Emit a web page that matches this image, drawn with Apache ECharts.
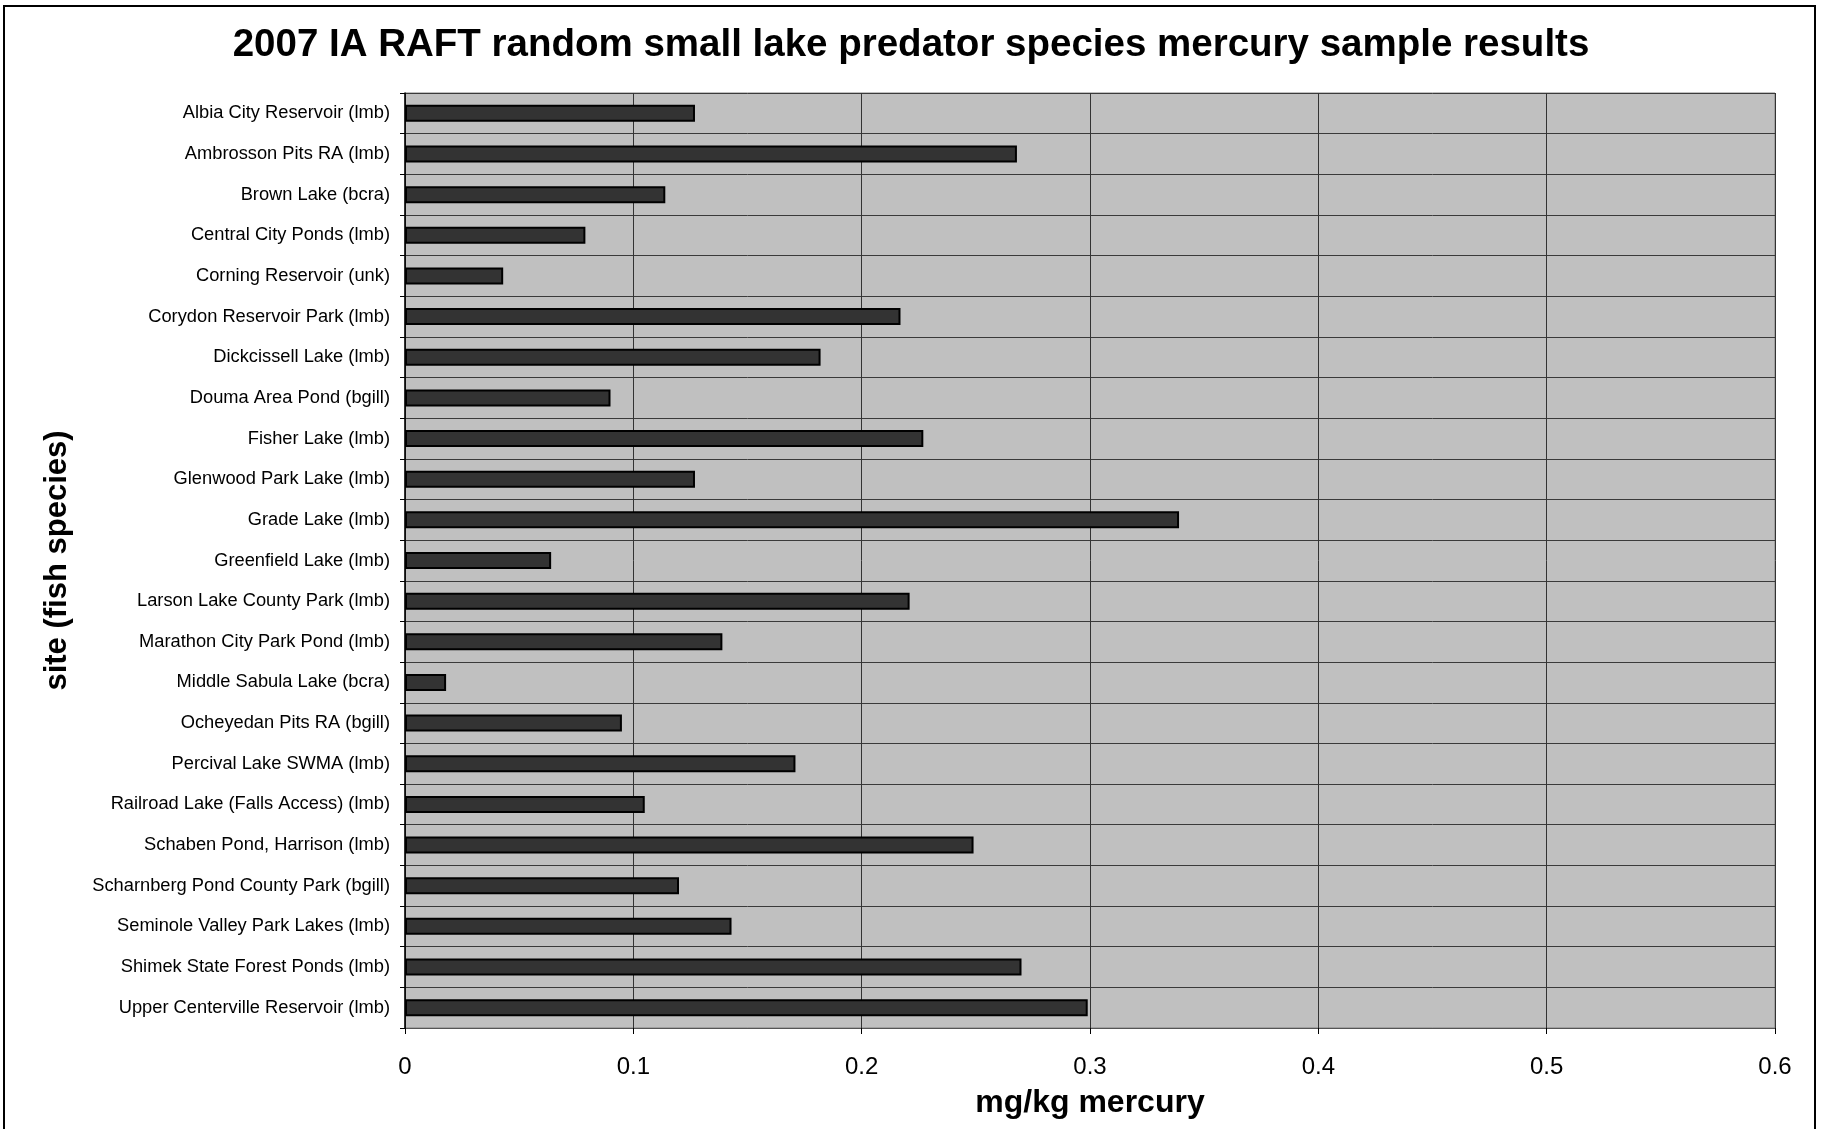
<!DOCTYPE html>
<html>
<head>
<meta charset="utf-8">
<script src="https://cdn.jsdelivr.net/npm/echarts@6/dist/echarts.min.js"></script>
<style>
  html, body { margin: 0; padding: 0; background: #ffffff; }
  #chart { width: 1822px; height: 1129px; }
</style>
</head>
<body>
<div id="chart"></div>
<script>
// Sites sampled (fish species in parentheses)
var sites = [
  'Albia City Reservoir (lmb)',
  'Ambrosson Pits RA (lmb)',
  'Brown Lake (bcra)',
  'Central City Ponds (lmb)',
  'Corning Reservoir (unk)',
  'Corydon Reservoir Park (lmb)',
  'Dickcissell Lake (lmb)',
  'Douma Area Pond (bgill)',
  'Fisher Lake (lmb)',
  'Glenwood Park Lake (lmb)',
  'Grade Lake (lmb)',
  'Greenfield Lake (lmb)',
  'Larson Lake County Park (lmb)',
  'Marathon City Park Pond (lmb)',
  'Middle Sabula Lake (bcra)',
  'Ocheyedan Pits RA (bgill)',
  'Percival Lake SWMA (lmb)',
  'Railroad Lake (Falls Access) (lmb)',
  'Schaben Pond, Harrison (lmb)',
  'Scharnberg Pond County Park (bgill)',
  'Seminole Valley Park Lakes (lmb)',
  'Shimek State Forest Ponds (lmb)',
  'Upper Centerville Reservoir (lmb)'
];

// Mercury concentration, mg/kg
var mercury = [
  0.127, 0.268, 0.114, 0.079, 0.043, 0.217, 0.182, 0.090, 0.227, 0.127,
  0.339, 0.064, 0.221, 0.139, 0.018, 0.095, 0.171, 0.105, 0.249, 0.120,
  0.143, 0.270, 0.299
];

// Value axis ticks
var xTicks = [0, 0.1, 0.2, 0.3, 0.4, 0.5, 0.6];

var titleText = '2007 IA RAFT random small lake predator species mercury sample results';
var xName = 'mg/kg mercury';
var yName = 'site (fish species)';

var FONT = '"Liberation Sans", Arial, sans-serif';

var chart = echarts.init(document.getElementById('chart'), null, { renderer: 'canvas' });

chart.setOption({
  backgroundColor: '#ffffff',
  animation: false,
  title: {
    text: titleText,
    left: 'center',
    top: 21,
    textStyle: { fontFamily: FONT, fontSize: 38.5, fontWeight: 'bold', color: '#000' }
  },
  graphic: [{
    type: 'rect',
    shape: { x: 4, y: 6, width: 1811, height: 1140 },
    style: { fill: 'none', stroke: '#000', lineWidth: 2 },
    silent: true
  }],
  grid: {
    left: 405,
    right: 47,
    top: 93,
    bottom: 101,
    show: true,
    backgroundColor: '#c0c0c0',
    borderColor: '#808080',
    borderWidth: 1
  },
  xAxis: {
    type: 'value',
    min: xTicks[0],
    max: xTicks[xTicks.length - 1],
    interval: 0.1,
    name: xName,
    nameLocation: 'middle',
    nameGap: 59,
    nameTextStyle: { fontFamily: FONT, fontSize: 32, fontWeight: 'bold', color: '#000' },
    axisLine: { show: true, lineStyle: { color: '#555', width: 1 } },
    axisTick: { show: true, length: 6, lineStyle: { color: '#000' } },
    axisLabel: {
      margin: 27,
      fontFamily: FONT,
      fontSize: 24,
      color: '#000',
      formatter: function (v) { return String(+v.toFixed(1)); }
    },
    splitLine: { show: true, lineStyle: { color: '#333', width: 1 } }
  },
  yAxis: {
    type: 'category',
    data: sites,
    inverse: true,
    name: yName,
    nameLocation: 'middle',
    nameGap: 332,
    nameTextStyle: { fontFamily: FONT, fontSize: 31, fontWeight: 'bold', color: '#000' },
    axisLine: { show: true, lineStyle: { color: '#000', width: 1.5 } },
    axisTick: { show: true, length: 5, inside: false, lineStyle: { color: '#000' } },
    axisLabel: { margin: 15, fontFamily: FONT, fontSize: 18.3, color: '#000' },
    splitLine: { show: true, lineStyle: { color: '#3a3a3a', width: 1 } }
  },
  series: [{
    type: 'bar',
    data: mercury,
    barWidth: 17,
    itemStyle: { color: '#333333', borderColor: '#000', borderWidth: 2 }
  }]
});
</script>
</body>
</html>
